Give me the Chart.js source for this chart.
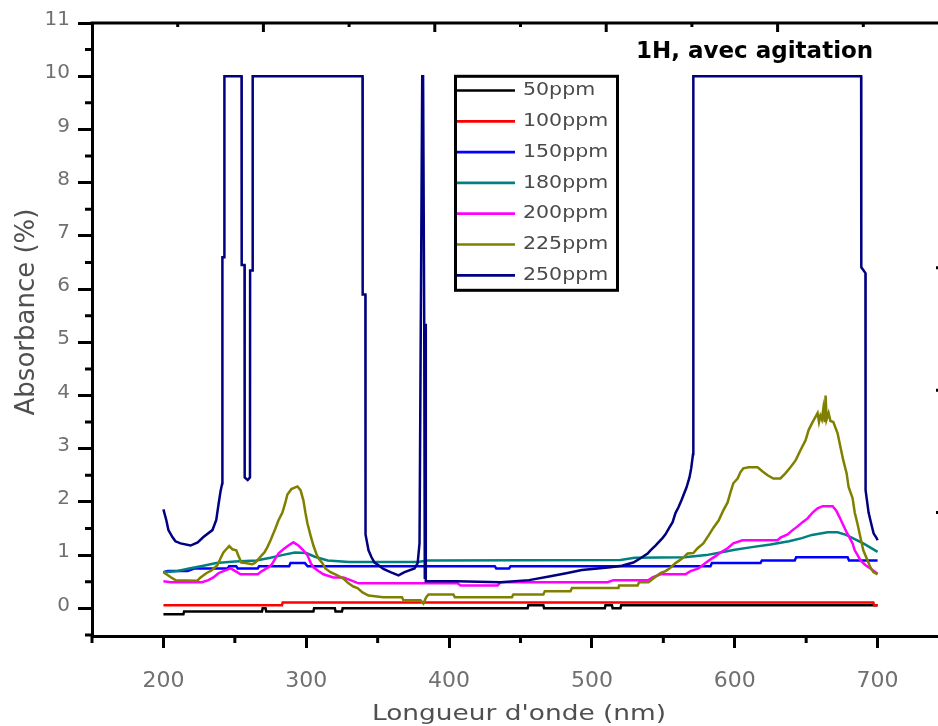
<!DOCTYPE html>
<html>
<head>
<meta charset="utf-8">
<title>Absorbance 1H avec agitation</title>
<script src="https://cdn.jsdelivr.net/npm/chart.js@4.4.1/dist/chart.umd.min.js"></script>
<style>
  html, body { margin: 0; padding: 0; background: #fff; overflow: hidden; }
  #cnvs { display: block; }
</style>
</head>
<body>
<canvas id="cnvs" width="950" height="726"></canvas>
<script>
// tick labels
var xTicks = [200, 300, 400, 500, 600, 700];
var yTicks = [0, 1, 2, 3, 4, 5, 6, 7, 8, 9, 10, 11];

// series labels + colours
var seriesNames  = ['50ppm', '100ppm', '150ppm', '180ppm', '200ppm', '225ppm', '250ppm'];
var seriesColors = ['#000000', '#ff0000', '#0000ff', '#008080', '#ff00ff', '#808000', '#000080'];

// wavelength (nm) / absorbance pairs
var wl50 = [200, 214, 214.5, 269, 269.5, 271.5, 272, 305, 305.5, 320, 320.5, 325, 325.5, 455, 455.5, 466, 466.5, 509, 509.5, 514, 514.5, 520, 520.5, 700];
var ab50 = [-0.11, -0.11, -0.06, -0.06, 0, 0, -0.06, -0.06, 0, 0, -0.06, -0.06, 0, 0, 0.06, 0.06, 0, 0, 0.06, 0.06, 0, 0, 0.06, 0.06];

var wl100 = [200, 283, 283.5, 697, 697.5, 700];
var ab100 = [0.06, 0.06, 0.11, 0.11, 0.06, 0.06];

var wl150 = [200, 203, 217, 222, 245, 246, 251, 252, 266, 267, 288, 289, 299, 301, 432, 433, 442, 443, 583, 584, 618, 619, 642, 643, 679, 680, 700];
var ab150 = [0.68, 0.70, 0.70, 0.75, 0.75, 0.79, 0.79, 0.75, 0.75, 0.79, 0.79, 0.85, 0.85, 0.79, 0.79, 0.75, 0.75, 0.79, 0.79, 0.85, 0.85, 0.90, 0.90, 0.96, 0.96, 0.90, 0.90];

var wl180 = [200, 210, 218, 228, 237, 250, 265, 275, 283, 292, 300, 306, 315, 330, 378, 385, 520, 530, 565, 580, 590, 600, 612, 625, 638, 647, 654, 665, 672, 678, 684, 690, 695, 700];
var ab180 = [0.68, 0.70, 0.75, 0.80, 0.85, 0.88, 0.90, 0.95, 1.00, 1.05, 1.04, 0.97, 0.90, 0.87, 0.87, 0.90, 0.91, 0.95, 0.96, 1.00, 1.05, 1.10, 1.15, 1.20, 1.26, 1.32, 1.38, 1.43, 1.43, 1.38, 1.30, 1.22, 1.14, 1.06];

var wl200 = [200, 205, 227, 231.5, 235, 238.5, 242, 247, 250.4, 254, 266, 269, 273.5, 276, 278.4, 280.5, 284, 287.5, 291, 294.5,
  298, 300.8, 303, 305, 308.5, 312, 319, 326, 331, 336.5, 406, 408, 434, 436, 511, 515, 539.6, 542.4, 548, 565.5,
  569, 574.6, 579.5, 583, 586.6, 590, 595, 599, 605.4, 630, 632, 637, 640.5, 644, 647.5, 651, 654.5, 658, 661.5, 668.5,
  671, 673.4, 676, 678.3, 680.4, 682.5, 684, 686, 688, 691.6, 695, 698.6, 700];
var ab200 = [0.51, 0.49, 0.49, 0.53, 0.58, 0.66, 0.70, 0.75, 0.70, 0.64, 0.64, 0.70, 0.77, 0.83, 0.94, 1.03, 1.11, 1.18, 1.24, 1.18,
  1.09, 1.00, 0.86, 0.77, 0.70, 0.64, 0.58, 0.58, 0.53, 0.47, 0.47, 0.43, 0.43, 0.49, 0.49, 0.53, 0.53, 0.58, 0.64, 0.64,
  0.70, 0.75, 0.85, 0.92, 0.98, 1.05, 1.13, 1.22, 1.28, 1.28, 1.33, 1.39, 1.47, 1.54, 1.62, 1.69, 1.80, 1.88, 1.92, 1.92,
  1.84, 1.71, 1.56, 1.43, 1.33, 1.22, 1.09, 1.00, 0.90, 0.81, 0.75, 0.68, 0.65];

var wl225 = [200, 204.9, 208.4, 223.8, 226, 230, 233.6, 237.8, 240, 242, 244, 246, 248.3, 251, 252.5, 254.6, 257.4, 262.3, 264.4, 268.6,
  270.7, 272.8, 275, 278.4, 280.5, 283.3, 285.4, 286.8, 289.6, 293.8, 296, 298, 299.4, 300.8, 303, 305, 307, 308.5, 311.3, 313.4,
  317, 321.8, 326, 329.6, 333, 335.9, 339.4, 343.6, 354, 367, 368, 380, 382, 384, 385.6, 403, 404, 444, 445, 466,
  467, 485, 486, 518.6, 519, 532, 533, 539.6, 543, 548, 551.5, 554.3, 558.5, 563.4, 567, 571, 574, 578, 581.7, 585.2,
  588.7, 592, 595, 597, 599, 602, 604, 606, 609.7, 616, 619.5, 623, 627, 632, 635.6, 639, 642.6, 646, 649.6, 651.7,
  654.5, 658, 659, 660, 661, 662, 663, 663.6, 664.3, 665.7, 667, 669, 672, 674, 676, 678.3, 679.7, 682.5, 684, 686,
  688, 690, 693, 695, 697, 700];
var ab225 = [0.68, 0.59, 0.53, 0.52, 0.58, 0.66, 0.71, 0.81, 0.94, 1.05, 1.11, 1.17, 1.11, 1.09, 0.99, 0.86, 0.85, 0.83, 0.86, 0.99,
  1.05, 1.15, 1.28, 1.50, 1.65, 1.80, 1.99, 2.14, 2.24, 2.29, 2.22, 2.03, 1.80, 1.60, 1.37, 1.18, 1.03, 0.94, 0.85, 0.75,
  0.68, 0.62, 0.56, 0.47, 0.41, 0.38, 0.30, 0.24, 0.21, 0.21, 0.15, 0.15, 0.09, 0.21, 0.26, 0.26, 0.21, 0.21, 0.26, 0.26,
  0.32, 0.32, 0.38, 0.38, 0.43, 0.43, 0.49, 0.49, 0.56, 0.66, 0.70, 0.75, 0.85, 0.94, 1.03, 1.04, 1.13, 1.22, 1.37, 1.52,
  1.65, 1.84, 1.99, 2.18, 2.35, 2.44, 2.56, 2.63, 2.65, 2.65, 2.57, 2.50, 2.44, 2.44, 2.54, 2.65, 2.78, 2.97, 3.16, 3.35,
  3.50, 3.67, 3.50, 3.62, 3.55, 3.75, 3.50, 4.00, 3.55, 3.67, 3.52, 3.50, 3.29, 3.03, 2.78, 2.54, 2.28, 2.07, 1.80, 1.58,
  1.33, 1.09, 0.90, 0.77, 0.68, 0.64];

var wl250 = [200, 202, 203.5, 206.3, 208.4, 212, 219, 224, 228, 234.3, 237, 238.5, 240, 241.2, 241.3, 242.6, 242.7, 254.7, 254.8, 256.8,
  256.9, 259, 260.6, 260.7, 262.4, 262.5, 339.4, 339.5, 341.4, 341.5, 343.6, 345.7, 347.8, 350.6, 354, 359, 364.6, 368.8, 375.8, 378,
  379.3, 381.2, 381.8, 382.6, 383, 383.3, 383.7, 405, 436, 456, 470, 482, 493, 513, 521, 529, 534, 539, 541, 544.5,
  546.6, 549.4, 551.5, 554.3, 556.5, 558.5, 560.6, 562.7, 564, 566.2, 568.3, 569.5, 570.8, 571, 688.5, 688.6, 691.5, 691.6, 693.7, 695.8,
  697.2, 699.3, 700];
var ab250 = [1.86, 1.66, 1.47, 1.34, 1.26, 1.22, 1.18, 1.24, 1.34, 1.47, 1.66, 1.94, 2.20, 2.35, 6.60, 6.60, 10, 10, 6.45, 6.45,
  2.46, 2.41, 2.46, 6.35, 6.35, 10, 10, 5.90, 5.90, 1.39, 1.09, 0.96, 0.86, 0.81, 0.74, 0.68, 0.62, 0.68, 0.75, 0.85,
  1.22, 10, 10, 5.35, 0.55, 5.35, 0.51, 0.51, 0.49, 0.53, 0.60, 0.66, 0.72, 0.77, 0.80, 0.86, 0.94, 1.03, 1.09, 1.18,
  1.24, 1.32, 1.39, 1.52, 1.62, 1.79, 1.90, 2.03, 2.12, 2.27, 2.46, 2.63, 2.9, 10, 10, 6.41, 6.30, 2.22, 1.80, 1.56,
  1.41, 1.32, 1.28];

// extra decorative ticks of the frame (top / right axes)
var topMajor = [270, 390, 510, 630];
var topMinor = [210, 330, 450, 570, 690];
var rightTicks = [1.8, 4.1, 6.4];

var xs = [wl50, wl100, wl150, wl180, wl200, wl225, wl250];
var ys = [ab50, ab100, ab150, ab180, ab200, ab225, ab250];

var datasets = seriesNames.map(function(name, i) {
  return {
    label: name,
    data: xs[i].map(function(x, j) { return { x: x, y: ys[i][j] }; }),
    borderColor: seriesColors[i],
    backgroundColor: seriesColors[i],
    borderWidth: 2.5,
    pointRadius: 0,
    fill: false,
    tension: 0,
    order: 10 - i
  };
});

var FONT = '"DejaVu Sans", sans-serif';

var frame = {
  id: 'frame',
  afterDraw: function(chart) {
    var ctx = chart.ctx, a = chart.chartArea;
    var sx = chart.scales.x, sy = chart.scales.y;
    ctx.save();
    ctx.strokeStyle = '#000';
    ctx.lineWidth = 3;
    ctx.lineCap = 'butt';

    // top and right frame lines
    ctx.beginPath();
    ctx.moveTo(a.left - 1.5, a.top);
    ctx.lineTo(a.right, a.top);
    ctx.lineTo(a.right, a.bottom);
    ctx.stroke();

    // minor ticks on y
    ctx.beginPath();
    for (var v = -0.5; v <= 10.5; v += 1) {
      var py = sy.getPixelForValue(v);
      ctx.moveTo(a.left - 7, py); ctx.lineTo(a.left, py);
    }
    // minor ticks on x
    for (var w = 150; w <= 750; w += 100) {
      var px = sx.getPixelForValue(w);
      ctx.moveTo(px, a.bottom); ctx.lineTo(px, a.bottom + 7);
    }
    // top axis ticks, pointing in
    topMajor.forEach(function(t) {
      var p = sx.getPixelForValue(t);
      ctx.moveTo(p, a.top); ctx.lineTo(p, a.top + 9);
    });
    topMinor.forEach(function(t) {
      var p = sx.getPixelForValue(t);
      ctx.moveTo(p, a.top); ctx.lineTo(p, a.top + 4);
    });
    // right axis ticks, pointing in
    rightTicks.forEach(function(t) {
      var p = sy.getPixelForValue(t);
      ctx.moveTo(a.right, p); ctx.lineTo(a.right - 13, p);
    });
    ctx.stroke();

    // chart title inside plot
    ctx.fillStyle = '#000';
    ctx.font = 'bold 23px ' + FONT;
    ctx.textAlign = 'left';
    ctx.textBaseline = 'alphabetic';
    ctx.fillText('1H, avec agitation', 636, 58);

    // y axis title
    ctx.save();
    ctx.translate(27, 312);
    ctx.rotate(-Math.PI / 2);
    ctx.fillStyle = '#505050';
    ctx.font = '26px ' + FONT;
    ctx.textAlign = 'center';
    ctx.textBaseline = 'middle';
    ctx.fillText('Absorbance (%)', 0, 0);
    ctx.restore();

    // x axis title (slightly wide lettering like the original)
    ctx.save();
    ctx.translate(519, 714);
    ctx.scale(1.2, 1);
    ctx.fillStyle = '#505050';
    ctx.font = '22px ' + FONT;
    ctx.textAlign = 'center';
    ctx.textBaseline = 'middle';
    ctx.fillText("Longueur d'onde (nm)", 0, 0);
    ctx.restore();

    // legend box
    var bx = 455.5, by = 76.3, bw = 162, bh = 214;
    ctx.fillStyle = '#fff';
    ctx.fillRect(bx, by, bw, bh);
    ctx.lineWidth = 3;
    ctx.strokeStyle = '#000';
    ctx.strokeRect(bx, by, bw, bh);
    chart.data.datasets.forEach(function(ds, i) {
      var ly = 90.5 + i * 30.8;
      ctx.beginPath();
      ctx.strokeStyle = ds.borderColor;
      ctx.lineWidth = 2.7;
      ctx.moveTo(457, ly); ctx.lineTo(515, ly);
      ctx.stroke();
      ctx.save();
      ctx.translate(523, ly);
      ctx.scale(1.14, 1);
      ctx.fillStyle = '#4a4a4a';
      ctx.font = '18px ' + FONT;
      ctx.textAlign = 'left';
      ctx.textBaseline = 'middle';
      ctx.fillText(ds.label, 0, 0);
      ctx.restore();
    });
    ctx.restore();
  }
};

var Cnvs = document.getElementById('cnvs');
var absChart = new Chart(Cnvs, {
  type: 'line',
  data: { datasets: datasets },
  options: {
    responsive: false,
    animation: false,
    layout: { padding: { top: 23, right: 1, bottom: 0, left: 0 } },
    plugins: { legend: { display: false }, tooltip: { enabled: false } },
    scales: {
      x: {
        type: 'linear',
        min: 150,
        max: 750,
        afterBuildTicks: function(axis) { axis.ticks = xTicks.map(function(v) { return { value: v }; }); },
        afterFit: function(axis) { axis.height = 90; },
        ticks: { font: { family: FONT, size: 22 }, color: '#707070', padding: 20, maxRotation: 0, autoSkip: false },
        grid: { drawOnChartArea: false, drawTicks: true, tickLength: 12, tickWidth: 3, tickColor: '#000' },
        border: { display: true, width: 3, color: '#000' }
      },
      y: {
        type: 'linear',
        min: -0.52,
        max: 11,
        afterBuildTicks: function(axis) { axis.ticks = yTicks.map(function(v) { return { value: v }; }); },
        afterFit: function(axis) { axis.width = 92; },
        ticks: { font: { family: FONT, size: 20 }, color: '#707070', padding: 8, labelOffset: -3, autoSkip: false },
        grid: { drawOnChartArea: false, drawTicks: true, tickLength: 14, tickWidth: 3, tickColor: '#000' },
        border: { display: true, width: 3, color: '#000' }
      }
    }
  },
  plugins: [frame]
});
</script>
</body>
</html>
